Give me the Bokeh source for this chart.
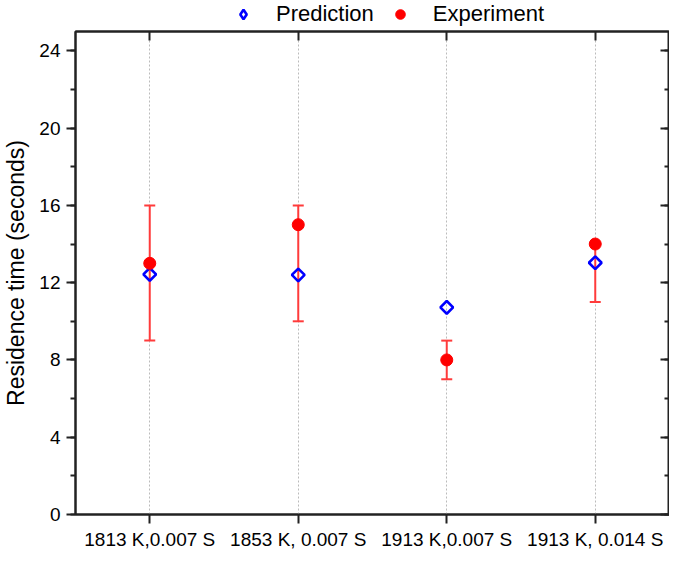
import math
from bokeh.plotting import figure
from bokeh.layouts import column
from bokeh.models import (ColumnDataSource, Whisker, TeeHead, Legend, LegendItem,
                          LinearAxis, CategoricalAxis, SingleIntervalTicker, Range1d)
from bokeh.embed import file_html
from bokeh.resources import INLINE

# ---- data ----
conditions = ["1813 K,0.007 S", "1853 K, 0.007 S", "1913 K,0.007 S", "1913 K, 0.014 S"]
prediction = [12.43, 12.4, 10.72, 13.03]
experiment = [13.0, 15.0, 8.0, 14.0]
exp_lower = [9.0, 10.0, 7.0, 11.0]
exp_upper = [16.0, 16.0, 9.0, 14.0]
series_names = ["Prediction", "Experiment"]
y_ticks_interval = 4

FONT = "Liberation Sans"
PRED_STYLE = dict(marker="square", angle=math.pi / 4, size=9, fill_color=None,
                  line_color="#0000ff", line_width=2.6)
PRED_LEG_STYLE = dict(marker="diamond", size=15, fill_color=None,
                      line_color="#0000ff", line_width=2.6)
EXP_STYLE = dict(marker="circle", size=12, fill_color="#ff0000", line_color="#ff0000")

src = ColumnDataSource(dict(x=conditions, pred=prediction, exp=experiment,
                            lower=exp_lower, upper=exp_upper))

# ---------- main plot ----------
p = figure(width=669, height=524, x_range=conditions, y_range=Range1d(0, 25),
           output_backend="svg", toolbar_location=None,
           min_border_left=60, min_border_right=0, min_border_top=3, min_border_bottom=0)
p.background_fill_color = "white"
p.border_fill_color = "white"
p.outline_line_color = "#222222"
p.outline_line_width = 2

p.ygrid.grid_line_color = None
p.xgrid.grid_line_color = "#bbbbbb"
p.xgrid.grid_line_dash = "2 2"
p.xgrid.grid_line_width = 1

ly = p.yaxis[0]
ly.ticker = SingleIntervalTicker(interval=y_ticks_interval, num_minor_ticks=2)
ly.axis_label = "Residence time (seconds)"
ly.axis_label_text_font = FONT
ly.axis_label_text_font_style = "normal"
ly.axis_label_text_font_size = "23px"
ly.axis_label_text_color = "black"
ly.axis_label_standoff = 7
ly.major_label_text_font = FONT
ly.major_label_text_font_size = "19px"
ly.major_label_text_color = "black"
ly.major_label_standoff = 6
ly.major_tick_out = 9
ly.major_tick_in = 0
ly.minor_tick_out = 5
ly.minor_tick_in = 0
ly.axis_line_width = 2
ly.major_tick_line_width = 2
ly.minor_tick_line_width = 2
ly.axis_line_color = "#222222"
ly.major_tick_line_color = "#222222"
ly.minor_tick_line_color = "#222222"

bx = p.xaxis[0]
bx.major_label_text_font = FONT
bx.major_label_text_font_size = "19px"
bx.major_label_text_color = "black"
bx.major_label_standoff = 5
bx.axis_label_standoff = 0
bx.major_tick_out = 9
bx.major_tick_in = 0
bx.axis_line_width = 2
bx.major_tick_line_width = 2
bx.axis_line_color = "#222222"
bx.major_tick_line_color = "#222222"

tx = CategoricalAxis(major_label_text_color=None, major_label_text_font_size="1px",
                     major_label_standoff=0, axis_label_standoff=0,
                     major_tick_in=9, major_tick_out=0, axis_line_width=2,
                     major_tick_line_width=2, axis_line_color="#222222",
                     major_tick_line_color="#222222")
p.add_layout(tx, "above")

ry = LinearAxis(ticker=SingleIntervalTicker(interval=y_ticks_interval, num_minor_ticks=2),
                major_label_text_color=None, major_label_text_font_size="1px",
                major_label_standoff=0, axis_label_standoff=0,
                major_tick_in=9, major_tick_out=0, minor_tick_in=5, minor_tick_out=0,
                axis_line_width=2, major_tick_line_width=2, minor_tick_line_width=2,
                axis_line_color="#222222", major_tick_line_color="#222222",
                minor_tick_line_color="#222222")
p.add_layout(ry, "right")

err_color = "#ff3b3b"
wh = Whisker(base="x", lower="lower", upper="upper", source=src, dimension="height",
             line_color=err_color, line_width=2,
             upper_head=TeeHead(size=11, line_color=err_color, line_width=2),
             lower_head=TeeHead(size=11, line_color=err_color, line_width=2))
p.add_layout(wh)

p.scatter("x", "pred", source=src, **PRED_STYLE)
p.scatter("x", "exp", source=src, **EXP_STYLE)

# ---------- legend strip (same data, drawn out of view; only legend shows) ----------
pl = figure(width=669, height=28, x_range=p.x_range, y_range=Range1d(-2, -1),
            output_backend="svg", toolbar_location=None,
            min_border_left=0, min_border_right=0, min_border_top=0, min_border_bottom=0)
pl.axis.visible = False
pl.grid.visible = False
pl.outline_line_color = None
lr1 = pl.scatter("x", "pred", source=src, **PRED_LEG_STYLE)
lr2 = pl.scatter("x", "exp", source=src, **EXP_STYLE)
legend = Legend(items=[LegendItem(label=series_names[0], renderers=[lr1], index=0),
                       LegendItem(label=series_names[1], renderers=[lr2], index=0)],
                orientation="horizontal", location=(156, 1),
                border_line_color=None, background_fill_alpha=0,
                label_text_font=FONT, label_text_font_size="22px",
                label_text_color="black",
                glyph_width=24, glyph_height=24, label_standoff=21, spacing=14,
                padding=0, margin=0)
pl.add_layout(legend, "center")

layout = column(pl, p, spacing=0)
open("out.html", "w").write(file_html(layout, INLINE))
